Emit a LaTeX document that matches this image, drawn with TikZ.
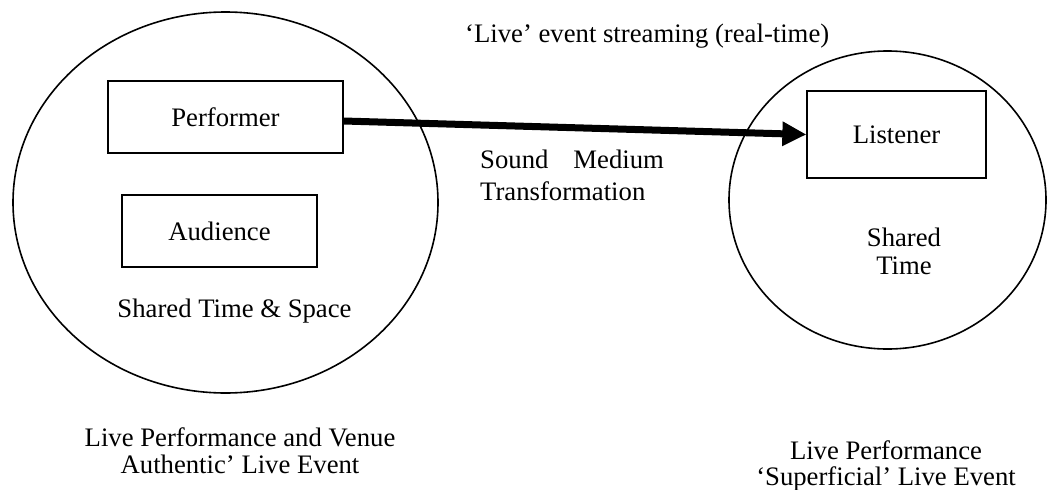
\documentclass[tikz,border=0pt]{standalone}
\usepackage{fontspec}
\setmainfont{Liberation Serif}
\usetikzlibrary{arrows.meta}
\tikzset{
  txt/.style={font=\fontsize{26.7}{31}\selectfont, inner sep=0pt},
  boxnode/.style={draw, line width=1.3pt, font=\fontsize{26.7}{31}\selectfont, inner sep=0pt},
  ring/.style={draw, line width=1.6pt},
  flow/.style={line width=7pt, -{Triangle[length=24pt,width=23pt]}}
}
\begin{document}
\begin{tikzpicture}[x=1pt,y=-1pt]
\useasboundingbox (0,0) rectangle (1047,490);
% ellipses
\draw[ring] (225.5,202.5) ellipse [x radius=212.5, y radius=190.5];
\draw[ring] (887.5,200) ellipse [x radius=158.5, y radius=149];
% boxes
\node[boxnode, minimum width=235pt, minimum height=72pt] (P) at (225.5,117) {Performer};
\node[boxnode, minimum width=195pt, minimum height=72pt] (A) at (219.5,231) {Audience};
\node[boxnode, minimum width=179pt, minimum height=87pt] (L) at (896.5,134.5) {Listener};
% texts
\node[txt, anchor=base] (stsp) at (234.5,317) {Shared Time \& Space};
\node[txt, anchor=base, align=center, font=\fontsize{26.7}{28}\selectfont] (st) at (904,274) {Shared\\Time};
\node[txt, anchor=base west] (live) at (465,42) {‘Live’ event streaming (real-time)};
\node[txt, anchor=base west, align=left, font=\fontsize{26.7}{32}\selectfont] (smt) at (480,200) {Sound\hspace{25pt}Medium\\Transformation};
\node[txt, anchor=base, align=center, font=\fontsize{26.7}{27}\selectfont] (bl) at (240,473) {Live Performance and Venue\\Authentic’ Live Event};
\node[txt, anchor=base, align=center, font=\fontsize{26.7}{26}\selectfont] (br) at (886,485) {Live Performance\\‘Superficial’ Live Event};
% arrow
\draw[flow] ([yshift=-4pt]P.east) -- (L.west);
\end{tikzpicture}
\end{document}
